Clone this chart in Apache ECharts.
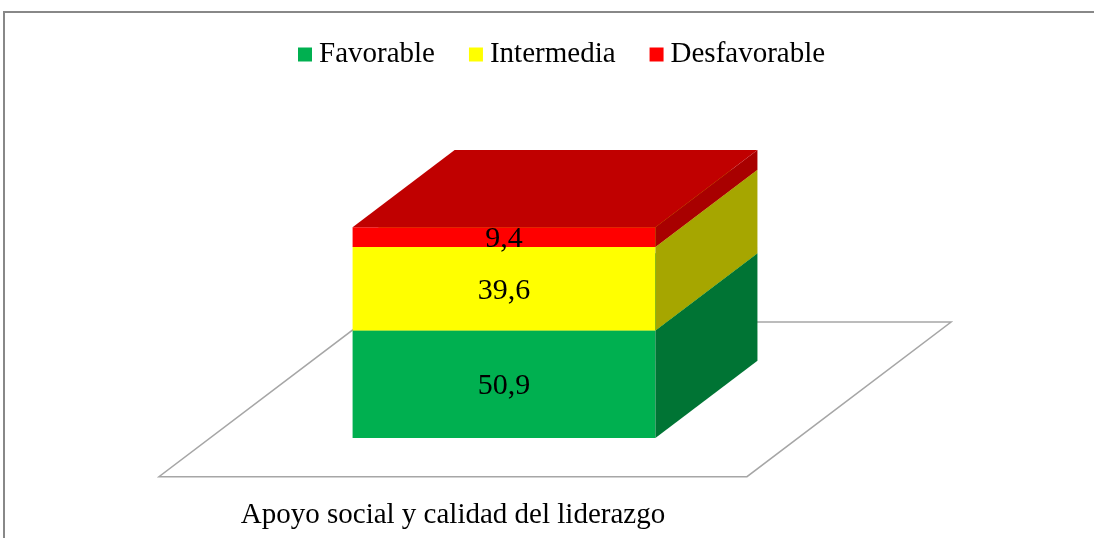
<!DOCTYPE html>
<html>
<head>
<meta charset="utf-8">
<script src="https://cdn.jsdelivr.net/npm/echarts@6/dist/echarts.min.js"></script>
<style>
  html, body { margin: 0; padding: 0; background: #fff; }
  #chart { width: 1094px; height: 538px; }
</style>
</head>
<body>
<div id="chart"></div>
<script>
// datos del grafico
var categories = ["Apoyo social y calidad del liderazgo"];
var seriesNames = ["Favorable", "Intermedia", "Desfavorable"];
var favorable = [50.9];
var intermedia = [39.6];
var desfavorable = [9.4];

var frontColors = ["#00B050", "#FFFF00", "#FF0000"];
var sideColors = ["#007434", "#A6A600", "#A80000"];
var topColors = ["#00B050", "#C8C800", "#C00000"];

var FONT = "'Liberation Serif', 'Times New Roman', serif";

// el alto de la caja en profundidad respecto al ancho de la barra
function depthOf(barW) {
  var dx = barW * 0.337;
  return [dx, -dx * 0.757];
}

// armar los datos apilados
function stackData(values, bases) {
  var out = [];
  for (var i = 0; i < values.length; i++) {
    out.push([i, bases[i] + values[i], bases[i], values[i]]);
  }
  return out;
}
var base0 = categories.map(function () { return 0; });
var base1 = favorable.map(function (v, i) { return base0[i] + v; });
var base2 = intermedia.map(function (v, i) { return base1[i] + v; });
var stacked = [
  stackData(favorable, base0),
  stackData(intermedia, base1),
  stackData(desfavorable, base2)
];

function renderBox(k) {
  return function (params, api) {
    var idx = api.value(0);
    var bandW = api.size([1, 0])[0];
    var barW = bandW * 0.515;
    var cx = api.coord([idx, 0])[0];
    var left = cx - barW / 2;
    var yTop = api.coord([idx, api.value(1)])[1];
    var yBase = api.coord([idx, api.value(2)])[1];
    var d = depthOf(barW);
    var right = left + barW;
    var label = String(api.value(3)).replace(".", ",");
    return {
      type: "group",
      children: [
        {
          type: "rect",
          shape: { x: left, y: yTop, width: barW, height: yBase - yTop },
          style: { fill: frontColors[k] }
        },
        {
          type: "polygon",
          shape: { points: [[right, yBase], [right + d[0], yBase + d[1]], [right + d[0], yTop + d[1]], [right, yTop]] },
          style: { fill: sideColors[k] }
        },
        {
          type: "polygon",
          shape: { points: [[left, yTop], [right, yTop], [right + d[0], yTop + d[1]], [left + d[0], yTop + d[1]]] },
          style: { fill: topColors[k] }
        },
        {
          type: "text",
          z2: 10,
          style: {
            text: label,
            x: cx,
            y: (yTop + yBase) / 2 + 2,
            align: "center",
            verticalAlign: "middle",
            font: "30px " + FONT,
            fill: "#000"
          }
        }
      ]
    };
  };
}

function renderFloor(params, api) {
  var idx = api.value(0);
  var bandW = api.size([1, 0])[0];
  var barW = bandW * 0.515;
  var cx = api.coord([idx, 0])[0];
  var y0 = api.coord([idx, 0])[1];
  var d = depthOf(barW);
  var fl = [cx - bandW / 2 - d[0] / 2, y0 - d[1] / 2];
  var fr = [fl[0] + bandW, fl[1]];
  var br = [fr[0] + 2 * d[0], fr[1] + 2 * d[1]];
  var bl = [fl[0] + 2 * d[0], fl[1] + 2 * d[1]];
  return {
    type: "group",
    children: [
      {
        type: "polygon",
        shape: { points: [fl, fr, br, bl] },
        style: { fill: "#fff", stroke: "#a6a6a6", lineWidth: 1.5 }
      },
      {
        type: "text",
        style: {
          text: categories[idx],
          x: fl[0] + bandW / 2,
          y: fl[1] + 39,
          align: "center",
          verticalAlign: "middle",
          font: "29px " + FONT,
          fill: "#000"
        }
      }
    ]
  };
}

var chart = echarts.init(document.getElementById("chart"));
var series = [{
  type: "custom",
  name: "piso",
  renderItem: renderFloor,
  data: categories.map(function (c, i) { return [i, 0]; }),
  z: 1,
  silent: true
}];
for (var k = 0; k < seriesNames.length; k++) {
  series.push({
    type: "custom",
    name: seriesNames[k],
    renderItem: renderBox(k),
    itemStyle: { color: frontColors[k] },
    data: stacked[k],
    encode: { x: 0, y: [1, 2] },
    z: 2 + k
  });
}

chart.setOption({
  animation: false,
  graphic: [{
    type: "rect",
    shape: { x: 4, y: 12, width: 1200, height: 600 },
    style: { fill: "none", stroke: "#888", lineWidth: 2 },
    z: 0,
    silent: true
  }],
  legend: {
    data: seriesNames,
    left: 293,
    top: 35,
    icon: "rect",
    itemWidth: 14,
    itemHeight: 14,
    itemGap: 34,
    textStyle: { fontFamily: FONT, fontSize: 29, color: "#000", padding: [0, 0, 0, 2] }
  },
  grid: { left: 210, right: 296, top: 227, bottom: 100 },
  xAxis: { type: "category", data: categories, show: false },
  yAxis: { type: "value", min: 0, max: 100, show: false },
  series: series
});
</script>
</body>
</html>
